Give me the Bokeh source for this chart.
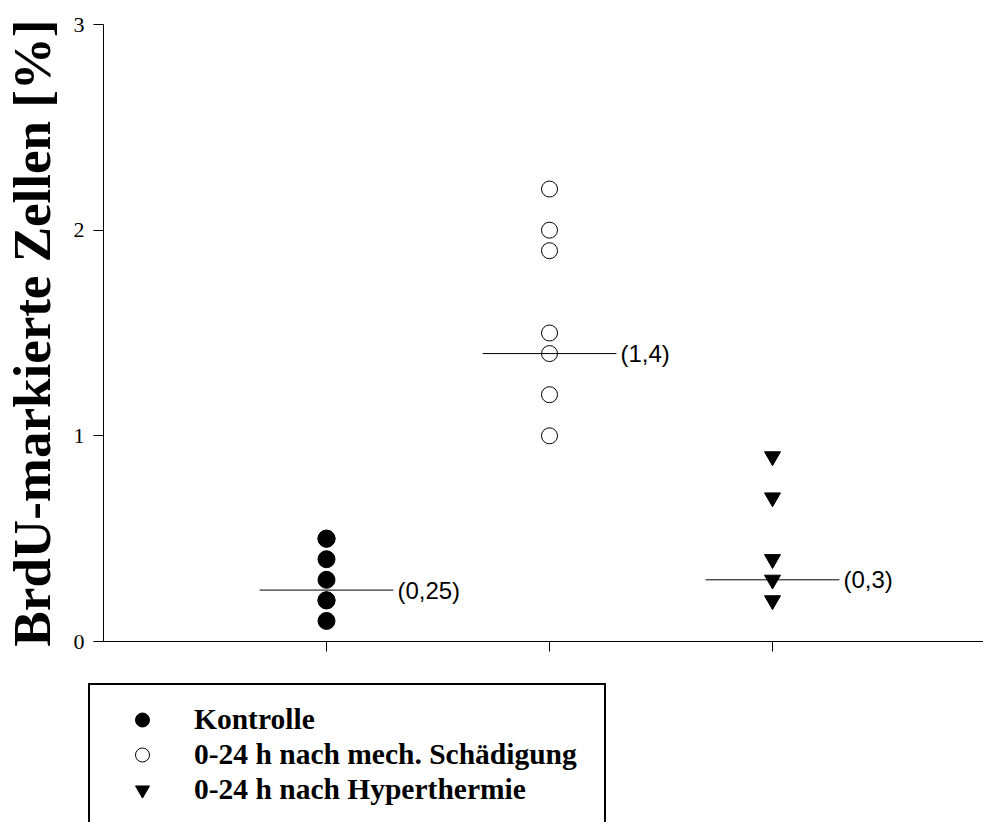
from bokeh.plotting import figure
from bokeh.models import Range1d, FixedTicker, Legend, LegendItem, ColumnDataSource
from bokeh.core.properties import value
from bokeh.embed import file_html
from bokeh.resources import INLINE

# ---- data ----
kontrolle = [0.1, 0.2, 0.2, 0.3, 0.4, 0.5, 0.5]
mech = [1.0, 1.2, 1.4, 1.5, 1.9, 2.0, 2.2]
hyper = [0.2, 0.3, 0.4, 0.7, 0.9]
group_pos = [1, 2, 3]
medians = [0.25, 1.4, 0.3]
median_labels = ["(0,25)", "(1,4)", "(0,3)"]
legend_labels = ["Kontrolle", "0-24 h nach mech. Schädigung", "0-24 h nach Hyperthermie"]
y_ticks = [0, 1, 2, 3]
y_label = "BrdU-markierte Zellen [%]"

HALF = 0.3
W, H = 983, 822
X_PX = 223.0          # pixels per x unit
Y_PX = 617.0 / 3.0    # pixels per y unit
X0_PX, Y0_PX = 103, 641   # pixel position of the origin

x_range = Range1d(-X0_PX / X_PX, (W - X0_PX) / X_PX)
y_range = Range1d(-(H - Y0_PX) / Y_PX, Y0_PX / Y_PX)

p = figure(width=W, height=H, output_backend="svg", toolbar_location=None,
           x_range=x_range, y_range=y_range,
           min_border_left=0, min_border_right=0, min_border_top=0, min_border_bottom=0)
p.outline_line_color = None
p.xgrid.visible = False
p.ygrid.visible = False
p.background_fill_color = "white"
p.border_fill_color = "white"

# axes
p.yaxis.fixed_location = 0
p.yaxis.bounds = (0, 3)
p.yaxis.ticker = FixedTicker(ticks=y_ticks)
p.yaxis.minor_tick_line_color = None
p.yaxis.major_tick_out = 10
p.yaxis.major_tick_in = 0
p.yaxis.major_label_standoff = 9
p.yaxis.major_label_text_font = "Liberation Serif"
p.yaxis.major_label_text_font_size = "22px"
p.yaxis.major_label_text_color = "black"
p.yaxis.axis_line_color = "black"
p.yaxis.major_tick_line_color = "black"
p.yaxis.axis_label = y_label
p.yaxis.axis_label_text_font = "Liberation Serif"
p.yaxis.axis_label_text_font_style = "bold"
p.yaxis.axis_label_text_font_size = "53px"
p.yaxis.axis_label_text_color = "black"
p.yaxis.axis_label_standoff = 10

p.xaxis.fixed_location = 0
p.xaxis.bounds = (0, x_range.end)
p.xaxis.ticker = FixedTicker(ticks=group_pos)
p.xaxis.minor_tick_line_color = None
p.xaxis.major_tick_out = 10
p.xaxis.major_tick_in = 0
p.xaxis.major_label_overrides = {g: "" for g in group_pos}
p.xaxis.axis_line_color = "black"
p.xaxis.major_tick_line_color = "black"

# median lines and labels
msrc = ColumnDataSource(dict(
    x0=[g - HALF for g in group_pos], x1=[g + HALF for g in group_pos],
    y=medians, t=median_labels))
p.segment(x0="x0", x1="x1", y0="y", y1="y", source=msrc, line_color="black", line_width=1)
p.text(x="x1", y="y", text="t", source=msrc, x_offset=4, text_baseline="middle",
       text_font=value("Liberation Sans"), text_font_size="24px", text_color="black")

# points
r1 = p.scatter([group_pos[0]] * len(kontrolle), kontrolle, marker="circle", size=17,
               fill_color="black", line_color="black")
r2 = p.scatter([group_pos[1]] * len(mech), mech, marker="circle", size=16,
               fill_color=None, line_color="black", line_width=1)
r3 = p.scatter([group_pos[2]] * len(hyper), hyper, marker="inverted_triangle", size=16,
               fill_color="black", line_color="black")

legend = Legend(items=[LegendItem(label=legend_labels[0], renderers=[r1]),
                       LegendItem(label=legend_labels[1], renderers=[r2]),
                       LegendItem(label=legend_labels[2], renderers=[r3])],
                location=(88, -4))
legend.border_line_color = "black"
legend.border_line_alpha = 1.0
legend.border_line_width = 2
legend.background_fill_color = "white"
legend.background_fill_alpha = 1
legend.padding = 17
legend.spacing = 0
legend.margin = 0
legend.glyph_width = 70
legend.glyph_height = 35
legend.label_height = 35
legend.label_standoff = 17
legend.label_width = 393
legend.label_text_font = "Liberation Serif"
legend.label_text_font_style = "bold"
legend.label_text_font_size = "29.5px"
legend.label_text_color = "black"
legend.label_text_baseline = "middle"
p.add_layout(legend)

open("out.html", "w").write(file_html(p, INLINE))
